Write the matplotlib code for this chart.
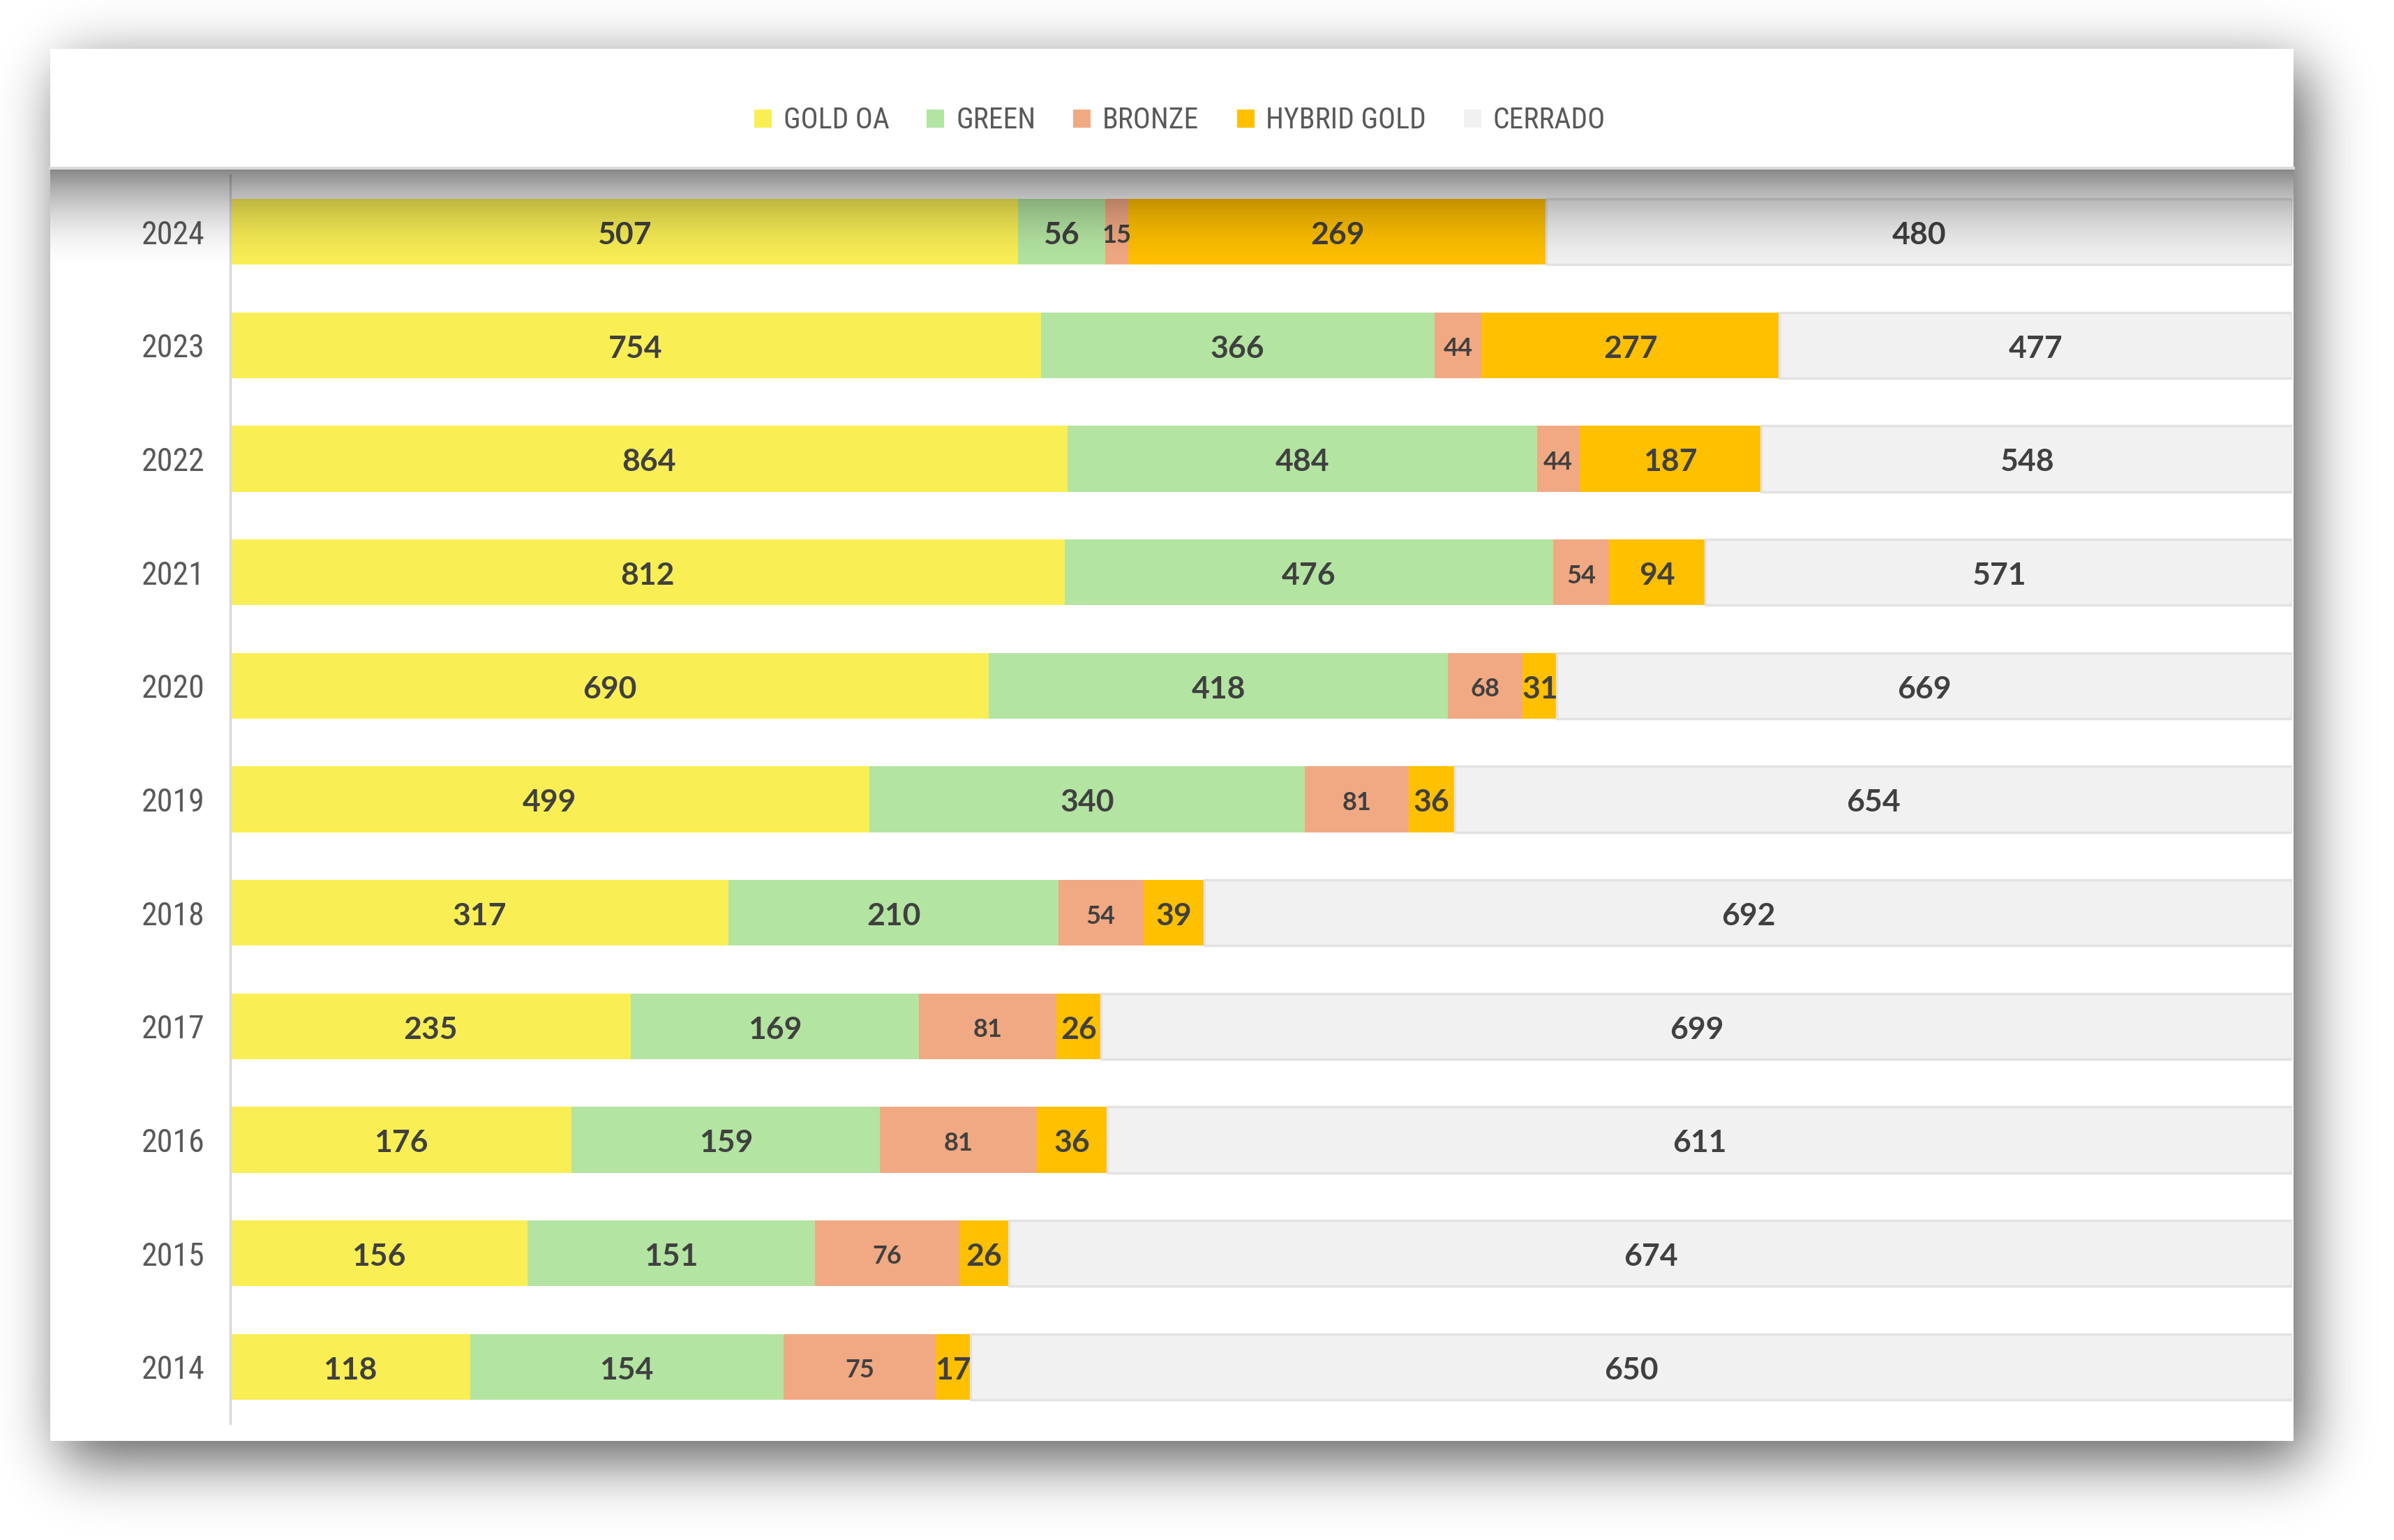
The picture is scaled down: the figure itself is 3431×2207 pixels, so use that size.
import math
import numpy as np
import matplotlib
matplotlib.use("Agg")
import matplotlib.pyplot as plt
from matplotlib import font_manager
from matplotlib.patches import Rectangle

# data, top row first
years = ["2024", "2023", "2022", "2021", "2020", "2019", "2018", "2017", "2016", "2015", "2014"]
series_names = ["GOLD OA", "GREEN", "BRONZE", "HYBRID GOLD", "CERRADO"]
gold_oa = [507, 754, 864, 812, 690, 499, 317, 235, 176, 156, 118]
green = [56, 366, 484, 476, 418, 340, 210, 169, 159, 151, 154]
bronze = [15, 44, 44, 54, 68, 81, 54, 81, 81, 76, 75]
hybrid_gold = [269, 277, 187, 94, 31, 36, 39, 26, 36, 26, 17]
cerrado = [480, 477, 548, 571, 669, 654, 692, 699, 611, 674, 650]

colors = ["#F9EF55", "#B3E4A1", "#F1A983", "#FFC000", "#F1F1F1"]

W, H = 3431, 2207


def pick_font(names):
    installed = {f.name for f in font_manager.fontManager.ttflist}
    for n in names:
        if n in installed:
            return n
    return "DejaVu Sans"


narrow = pick_font(["Liberation Sans Narrow", "Roboto Condensed", "Liberation Sans"])
label_font = pick_font(["Lato", "Open Sans", "DejaVu Sans"])

fig = plt.figure(figsize=(W / 100, H / 100), dpi=100)
fig.patch.set_facecolor("white")

# background: drop shadow + white panel
bg = fig.add_axes([0, 0, 1, 1])
bg.set_xlim(0, W)
bg.set_ylim(H, 0)
bg.axis("off")

erf = np.vectorize(math.erf)


def soft_box(coord, a, b, s):
    return 0.5 * (erf((coord - a) / (s * math.sqrt(2))) - erf((coord - b) / (s * math.sqrt(2))))


px0, px1, py0, py1 = 72, 3287, 70, 2065
fx = soft_box(np.arange(W) + 0.5, px0 + 16, px1 + 18, 42)
fy = soft_box(np.arange(H) + 0.5, py0 + 26, py1 + 28, 44)
shadow = 1 - 0.64 * np.outer(fy, fx)
bg.imshow(shadow, cmap="gray", vmin=0, vmax=1, extent=(0, W, H, 0), aspect="auto",
          interpolation="bilinear", zorder=0)
bg.add_patch(Rectangle((px0, py0), px1 - px0, py1 - py0, facecolor="white", edgecolor="none", zorder=1))
bg.plot([px0, px1], [241, 241], color="#DADADA", lw=3, zorder=2)

# main chart
ax = fig.add_axes([330 / W, 1 - 2040 / H, (3285 - 330) / W, (2040 - 251) / H])
ax.set_facecolor("none")
data = np.array([gold_oa, green, bronze, hybrid_gold, cerrado], dtype=float)
totals = data.sum(axis=0)
pct = data / totals * 100
ypos = np.arange(len(years))
left = np.zeros(len(years))
for i, name in enumerate(series_names):
    if name == "CERRADO":
        ax.barh(ypos, pct[i], left=left, height=0.58, color=colors[i],
                edgecolor="#E2E2E2", linewidth=2.5, label=name)
    else:
        ax.barh(ypos, pct[i], left=left, height=0.58, color=colors[i],
                edgecolor="none", label=name)
    for j in range(len(years)):
        fs = 26 if name == "BRONZE" else 32
        ax.text(left[j] + pct[i][j] / 2, ypos[j] + 0.03, str(int(data[i][j])),
                ha="center", va="center", fontsize=fs, fontweight="bold",
                color="#404040", family=label_font)
    left += pct[i]

ax.set_xlim(0, 100)
ax.set_ylim(len(years) - 0.5, -0.5)
ax.set_yticks(ypos)
ax.set_yticklabels(years, fontsize=33, color="#595959", family=narrow)
ax.tick_params(axis="y", length=0, pad=26)
ax.tick_params(axis="x", bottom=False, labelbottom=False)
for s in ["top", "right", "bottom"]:
    ax.spines[s].set_visible(False)
ax.spines["left"].set_color("#D9D9D9")
ax.spines["left"].set_linewidth(2.5)

# shadow under the legend band
top = fig.add_axes([px0 / W, 1 - 395 / H, (px1 - px0) / W, (395 - 243) / H])
top.set_zorder(5)
t = np.linspace(0, 1, 200)
alpha = 0.47 * (1 - t) ** 2
grad = np.zeros((200, 2, 4))
grad[:, :, 3] = alpha[:, None]
top.imshow(grad, aspect="auto", extent=(0, 1, 1, 0), interpolation="bilinear")
top.axis("off")

handles = [Rectangle((0, 0), 1, 1, facecolor=c, edgecolor="none") for c in colors]
fig.legend(handles, series_names, loc="center", bbox_to_anchor=(1691 / W, 1 - 173 / H),
           ncol=5, frameon=False, handlelength=0.6, handleheight=0.6,
           handletextpad=0.4, columnspacing=1.3,
           prop={"family": narrow, "size": 30}, labelcolor="#595959")

fig.savefig("out.png", dpi=100, facecolor="white")
